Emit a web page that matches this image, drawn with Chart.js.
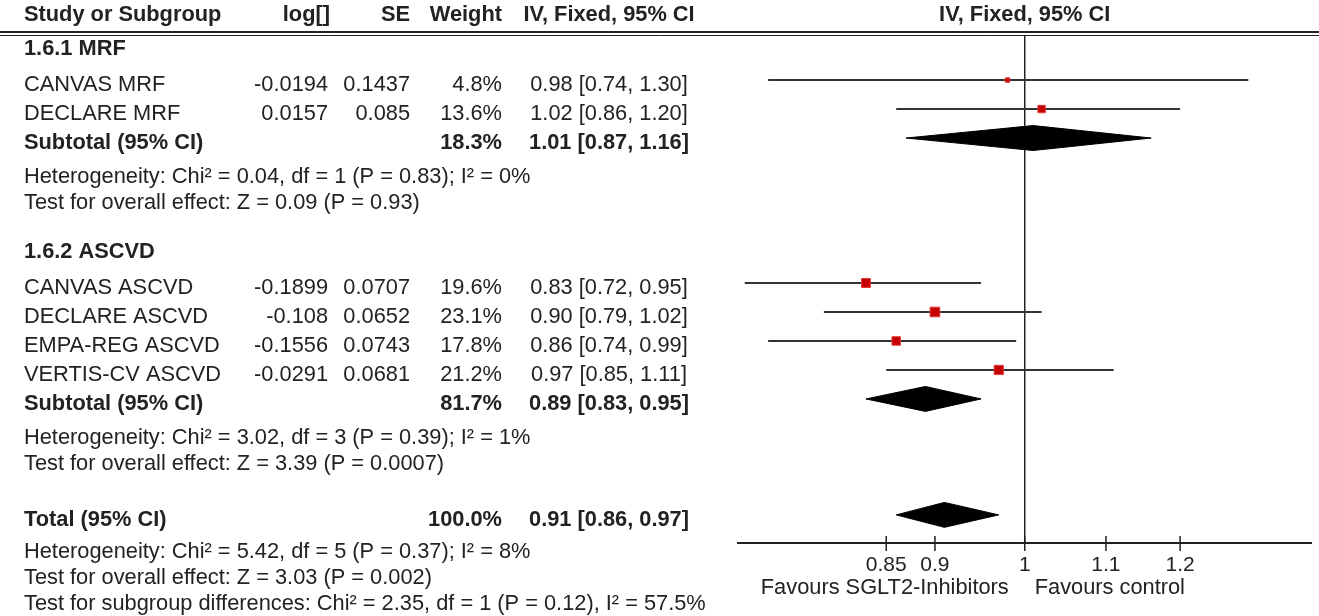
<!DOCTYPE html>
<html>
<head>
<meta charset="utf-8">
<script src="https://cdn.jsdelivr.net/npm/chart.js@4.4.1/dist/chart.umd.min.js"></script>
<style>
  html, body { margin: 0; padding: 0; background: #fff; }
  #forest { display: block; }
</style>
</head>
<body>
<canvas id="forest" width="1319" height="616"></canvas>
<script>
// datos del forest plot
const estudios = ['CANVAS MRF', 'DECLARE MRF', 'CANVAS ASCVD', 'DECLARE ASCVD', 'EMPA-REG ASCVD', 'VERTIS-CV ASCVD'];
const grupoDe = [0, 0, 1, 1, 1, 1];
const logEst = ['-0.0194', '0.0157', '-0.1899', '-0.108', '-0.1556', '-0.0291'];
const errorEst = ['0.1437', '0.085', '0.0707', '0.0652', '0.0743', '0.0681'];
const peso = [4.8, 13.6, 19.6, 23.1, 17.8, 21.2];
const estimado = [0.98, 1.02, 0.83, 0.90, 0.86, 0.97];
const inferior = [0.74, 0.86, 0.72, 0.79, 0.74, 0.85];
const superior = [1.30, 1.20, 0.95, 1.02, 0.99, 1.11];

const grupos = ['1.6.1 MRF', '1.6.2 ASCVD'];
const pesoGrupo = [18.3, 81.7];
const estGrupo = [1.01, 0.89];
const infGrupo = [0.87, 0.83];
const supGrupo = [1.16, 0.95];
const hetGrupo = ['Heterogeneity: Chi\u00b2 = 0.04, df = 1 (P = 0.83); I\u00b2 = 0%', 'Heterogeneity: Chi\u00b2 = 3.02, df = 3 (P = 0.39); I\u00b2 = 1%'];
const efectoGrupo = ['Test for overall effect: Z = 0.09 (P = 0.93)', 'Test for overall effect: Z = 3.39 (P = 0.0007)'];

const pesoTotal = 100.0;
const estTotal = 0.91, infTotal = 0.86, supTotal = 0.97;
const notasTotal = [
    'Heterogeneity: Chi\u00b2 = 5.42, df = 5 (P = 0.37); I\u00b2 = 8%',
    'Test for overall effect: Z = 3.03 (P = 0.002)',
    'Test for subgroup differences: Chi\u00b2 = 2.35, df = 1 (P = 0.12), I\u00b2 = 57.5%'
];

const tickValores = [0.85, 0.9, 1, 1.1, 1.2];
const tickTextos = ['0.85', '0.9', '1', '1.1', '1.2'];
const ejeMin = 1 / 1.4, ejeMax = 1.4;
const etiquetaIzq = 'Favours SGLT2-Inhibitors';
const etiquetaDer = 'Favours control';

// layout
const FUENTE = '"Liberation Sans", Arial, Helvetica, sans-serif';
const TAM = 21.8;
const COL_NOMBRE = 24, COL_LOG = 328, COL_SE = 410, COL_PESO = 502, COL_IC = 609;
const Y_MIN = -0.52, Y_MAX = 16.97;
const MEDIO_DIAMANTE = 0.43;

// filas de la tabla (en unidades de fila del eje y)
const filas = [];
const filaEst = [];
let r = 1;
grupos.forEach((g, gi) => {
    filas.push({ r: r - 1.24, texto: g, bold: true });
    estudios.forEach((e, i) => {
        if (grupoDe[i] !== gi) return;
        filaEst[i] = r;
        filas.push({ r, texto: e, log: logEst[i], se: errorEst[i], peso: peso[i], ic: [estimado[i], inferior[i], superior[i]] });
        r++;
    });
    filas.push({ r, texto: 'Subtotal (95% CI)', bold: true, peso: pesoGrupo[gi], ic: [estGrupo[gi], infGrupo[gi], supGrupo[gi]], diamante: true });
    filas.push({ r: r + 1.18, texto: hetGrupo[gi] });
    filas.push({ r: r + 2.08, texto: efectoGrupo[gi] });
    r += 5;
});
const filaTotal = r - 1;
filas.push({ r: filaTotal, texto: 'Total (95% CI)', bold: true, peso: pesoTotal, ic: [estTotal, infTotal, supTotal], diamante: true });
notasTotal.forEach((t, k) => filas.push({ r: filaTotal + 1.1 + k * 0.9, texto: t }));

function formatoIC(ic) {
    return ic[0].toFixed(2) + ' [' + ic[1].toFixed(2) + ', ' + ic[2].toFixed(2) + ']';
}

function diamante(est, inf, sup, fila) {
    return [
        { x: inf, y: fila },
        { x: est, y: fila - MEDIO_DIAMANTE },
        { x: sup, y: fila },
        { x: est, y: fila + MEDIO_DIAMANTE },
        { x: inf, y: fila }
    ];
}

const datasets = [];
// linea vertical de no efecto
datasets.push({ data: [{ x: 1, y: Y_MIN }, { x: 1, y: Y_MAX }], borderColor: '#222', borderWidth: 1.5, pointRadius: 0, order: 3 });
// intervalos de confianza
estudios.forEach((e, i) => {
    datasets.push({
        data: [{ x: inferior[i], y: filaEst[i] }, { x: superior[i], y: filaEst[i] }],
        borderColor: '#333', borderWidth: 2, pointRadius: 0, order: 2
    });
});
// diamantes
filas.filter(f => f.diamante).forEach(f => {
    datasets.push({
        data: diamante(f.ic[0], f.ic[1], f.ic[2], f.r),
        borderColor: '#000', borderWidth: 1, backgroundColor: '#000',
        fill: 'shape', pointRadius: 0, tension: 0, order: 1
    });
});
// cuadrados por peso
datasets.push({
    data: estudios.map((e, i) => ({ x: estimado[i], y: filaEst[i] })),
    showLine: false, pointStyle: 'rect',
    pointRadius: peso.map(w => 1.42 * Math.sqrt(w)),
    pointBackgroundColor: '#c40000', pointBorderColor: '#e23a3a', pointBorderWidth: 1,
    order: 0
});

function texto(ctx, s, x, y, align, bold) {
    ctx.font = (bold ? 'bold ' : '') + TAM + 'px ' + FUENTE;
    ctx.textAlign = align;
    ctx.fillText(s, x, y);
}

const tablaPlugin = {
    id: 'tabla',
    afterDraw(chart) {
        const ctx = chart.ctx;
        const ys = chart.scales.y;
        const xs = chart.scales.x;
        const area = chart.chartArea;
        const yFila = f => ys.getPixelForValue(f) + 5;
        ctx.save();
        ctx.fillStyle = '#222';
        ctx.textBaseline = 'middle';

        // cabecera
        const yCab = yFila(-1.42);
        texto(ctx, 'Study or Subgroup', COL_NOMBRE, yCab, 'left', true);
        texto(ctx, 'log[]', COL_LOG + 2, yCab, 'right', true);
        texto(ctx, 'SE', COL_SE, yCab, 'right', true);
        texto(ctx, 'Weight', COL_PESO, yCab, 'right', true);
        texto(ctx, 'IV, Fixed, 95% CI', COL_IC, yCab, 'center', true);
        texto(ctx, 'IV, Fixed, 95% CI', xs.getPixelForValue(1), yCab, 'center', true);

        // doble linea bajo la cabecera
        ctx.strokeStyle = '#222';
        ctx.lineWidth = 2;
        ctx.beginPath();
        ctx.moveTo(0, area.top - 4);
        ctx.lineTo(chart.width, area.top - 4);
        ctx.stroke();
        ctx.lineWidth = 1;
        ctx.beginPath();
        ctx.moveTo(0, area.top - 0.5);
        ctx.lineTo(chart.width, area.top - 0.5);
        ctx.stroke();

        filas.forEach(f => {
            const y = yFila(f.r);
            texto(ctx, f.texto, COL_NOMBRE, y, 'left', f.bold);
            if (f.log) texto(ctx, f.log, COL_LOG, y, 'right', false);
            if (f.se) texto(ctx, f.se, COL_SE, y, 'right', false);
            if (f.peso !== undefined) texto(ctx, f.peso.toFixed(1) + '%', COL_PESO, y, 'right', f.bold);
            if (f.ic) texto(ctx, formatoIC(f.ic), COL_IC, y, 'center', f.bold);
        });

        // marcas del eje x
        ctx.lineWidth = 1.5;
        ctx.beginPath();
        tickValores.forEach(v => {
            const x = xs.getPixelForValue(v);
            ctx.moveTo(x, area.bottom - 7);
            ctx.lineTo(x, area.bottom + 8);
        });
        ctx.stroke();

        // etiquetas de favor
        const x1 = xs.getPixelForValue(1);
        const yFav = area.bottom + 45;
        texto(ctx, etiquetaIzq, x1 - 16, yFav, 'right', false);
        texto(ctx, etiquetaDer, x1 + 10, yFav, 'left', false);
        ctx.restore();
    }
};

new Chart(document.getElementById('forest'), {
    type: 'line',
    data: { datasets },
    options: {
        responsive: false,
        animation: false,
        devicePixelRatio: 1,
        events: [],
        layout: { padding: { left: 738, right: 3, top: 36, bottom: 0 } },
        plugins: { legend: { display: false }, tooltip: { enabled: false } },
        scales: {
            x: {
                type: 'logarithmic',
                min: ejeMin,
                max: ejeMax,
                afterBuildTicks: s => { s.ticks = tickValores.map(v => ({ value: v })); },
                afterFit: s => { s.height = 73; },
                grid: { display: false, drawTicks: false },
                border: { display: true, color: '#222', width: 2 },
                ticks: {
                    padding: 10,
                    autoSkip: false,
                    maxRotation: 0,
                    color: '#222',
                    font: { family: FUENTE, size: 21 },
                    callback: v => {
                        const k = tickValores.findIndex(t => Math.abs(t - v) < 1e-9);
                        return k >= 0 ? tickTextos[k] : '';
                    }
                }
            },
            y: {
                type: 'linear',
                display: false,
                reverse: true,
                min: Y_MIN,
                max: Y_MAX
            }
        }
    },
    plugins: [tablaPlugin]
});
</script>
</body>
</html>
